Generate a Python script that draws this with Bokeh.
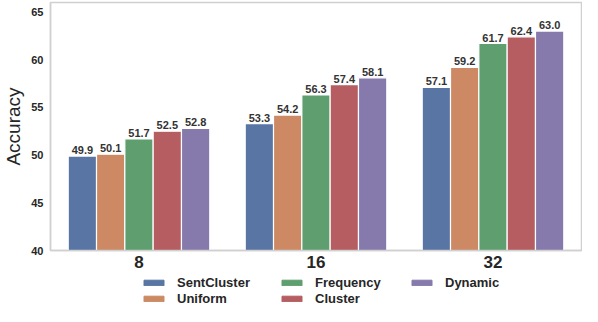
from bokeh.plotting import figure
from bokeh.models import ColumnDataSource, Legend, LegendItem, FactorRange, Range1d
from bokeh.layouts import column
from bokeh.transform import dodge
from bokeh.core.properties import value
from bokeh.embed import file_html
from bokeh.resources import INLINE

categories = ["8", "16", "32"]
methods = ["SentCluster", "Uniform", "Frequency", "Cluster", "Dynamic"]
sentcluster = [49.9, 53.3, 57.1]
uniform = [50.1, 54.2, 59.2]
frequency = [51.7, 56.3, 61.7]
cluster = [52.5, 57.4, 62.4]
dynamic = [52.8, 58.1, 63.0]
y_ticks = [40, 45, 50, 55, 60, 65]

series = [sentcluster, uniform, frequency, cluster, dynamic]
colors = ["#5875A4", "#CC8963", "#5F9E6E", "#B55D60", "#857AAB"]
FONT = "Liberation Sans"

p = figure(width=582, height=273, x_range=FactorRange(*categories), y_range=(40, 66),
           output_backend="svg", toolbar_location=None,
           min_border_left=32, min_border_right=1, min_border_top=2, min_border_bottom=23)

bw = 0.16
for i, (name, vals, col) in enumerate(zip(methods, series, colors)):
    off = (i - 2) * bw
    src = ColumnDataSource(dict(cat=categories, val=vals, lab=["%.1f" % v for v in vals]))
    p.vbar(x=dodge("cat", off, range=p.x_range), top="val", bottom=40, width=bw,
           source=src, fill_color=col, line_color="white", line_width=1.2)
    p.text(x=dodge("cat", off, range=p.x_range), y="val", text="lab", source=src,
           text_align="center", text_baseline="bottom", y_offset=-2,
           text_font=value(FONT), text_font_style="bold", text_font_size="11px",
           text_color="#333333")

p.xgrid.visible = False
p.ygrid.visible = False
p.outline_line_color = "#d0d0d0"
p.outline_line_width = 1.5

p.yaxis.ticker = y_ticks
p.yaxis.axis_label = "Accuracy"
p.yaxis.axis_label_text_font = FONT
p.yaxis.axis_label_text_font_style = "normal"
p.yaxis.axis_label_text_font_size = "19px"
p.yaxis.axis_label_text_color = "#262626"
p.yaxis.axis_label_standoff = 4
p.yaxis.major_label_text_font = FONT
p.yaxis.major_label_text_font_style = "bold"
p.yaxis.major_label_text_font_size = "11px"
p.yaxis.major_label_text_color = "#262626"
p.yaxis.major_label_standoff = 7

p.xaxis.major_label_text_font = FONT
p.xaxis.major_label_text_font_style = "bold"
p.xaxis.major_label_text_font_size = "17px"
p.xaxis.major_label_text_color = "#262626"
p.xaxis.major_label_standoff = 5

for ax in (p.xaxis, p.yaxis):
    ax.axis_line_color = "#d0d0d0"
    ax.axis_line_width = 1.5
    ax.major_tick_line_color = None
    ax.minor_tick_line_color = None
    ax.major_tick_out = 0
    ax.major_tick_in = 0

# legend strip below the chart
lg = figure(width=582, height=33, x_range=Range1d(0, 1), y_range=Range1d(0, 1),
            output_backend="svg", toolbar_location=None,
            x_axis_location=None, y_axis_location=None,
            min_border=0, min_border_left=0, min_border_right=0,
            min_border_top=0, min_border_bottom=0)
lg.grid.visible = False
lg.outline_line_color = None

items = []
for name, col in zip(methods, colors):
    r = lg.vbar(x=[-10], top=[-10], bottom=[-11], width=0.1, fill_color=col, line_color=col)
    items.append(LegendItem(label=name, renderers=[r]))

col_groups = [[0, 1], [2, 3], [4]]
col_x = [91, 229, 359]
for grp, lx in zip(col_groups, col_x):
    ly = 0 if len(grp) == 2 else 16
    leg = Legend(items=[items[k] for k in grp], orientation="vertical",
                 label_text_font=FONT, label_text_font_style="bold",
                 label_text_font_size="13px", label_text_color="#262626",
                 glyph_width=25, glyph_height=7, label_standoff=11, spacing=1,
                 label_height=14, border_line_color=None, background_fill_alpha=0,
                 padding=0, margin=0, location=(lx, ly))
    lg.add_layout(leg, "center")

layout = column(p, lg, spacing=0)
open("out.html", "w").write(file_html(layout, INLINE))
